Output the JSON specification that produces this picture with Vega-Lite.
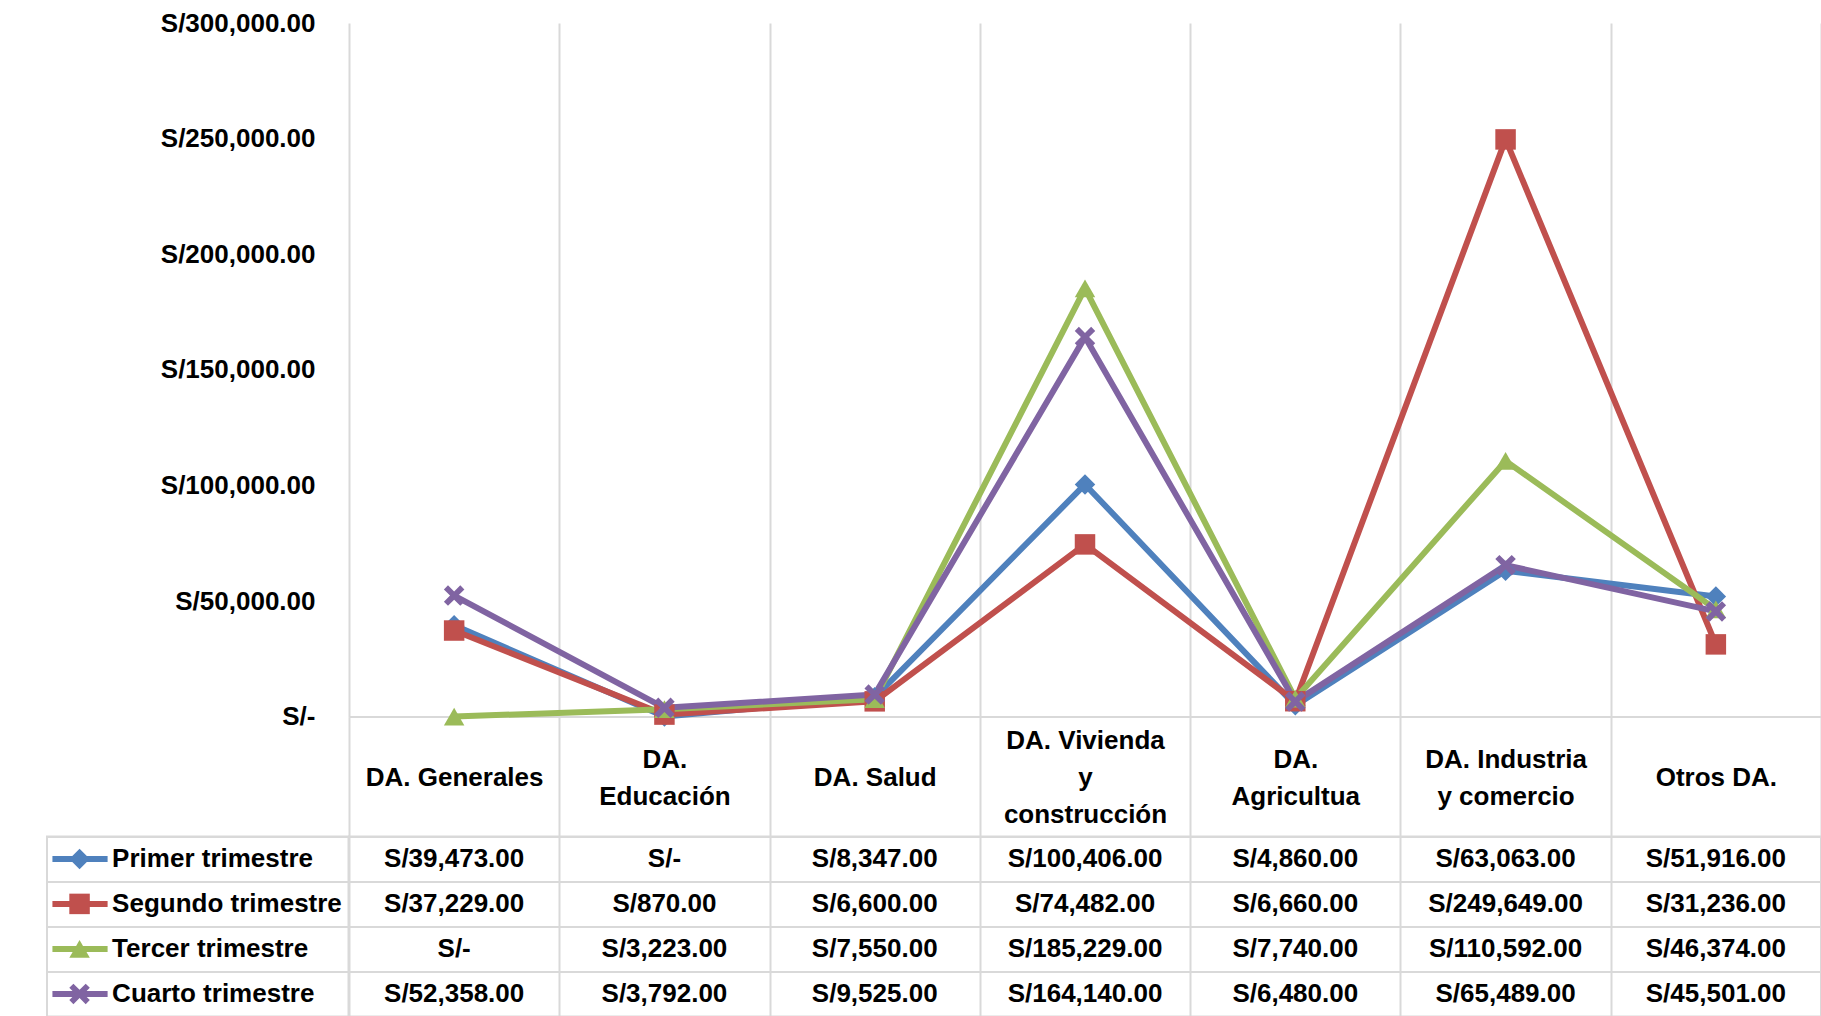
{
  "$schema": "https://vega.github.io/schema/vega-lite/v6.json",
  "padding": {"left": 46, "top": 10, "right": 0, "bottom": 0},
  "background": "#ffffff",
  "config": {"font": "Liberation Sans", "view": {"stroke": null}},
  "datasets": {
    "d": [
      {"cat": "DA. Generales", "series": "Primer trimestre", "value": 39473},
      {"cat": "DA. Educación", "series": "Primer trimestre", "value": 0},
      {"cat": "DA. Salud", "series": "Primer trimestre", "value": 8347},
      {"cat": "DA. Vivienda y construcción", "series": "Primer trimestre", "value": 100406},
      {"cat": "DA. Agricultua", "series": "Primer trimestre", "value": 4860},
      {"cat": "DA. Industria y comercio", "series": "Primer trimestre", "value": 63063},
      {"cat": "Otros DA.", "series": "Primer trimestre", "value": 51916},
      {"cat": "DA. Generales", "series": "Segundo trimestre", "value": 37229},
      {"cat": "DA. Educación", "series": "Segundo trimestre", "value": 870},
      {"cat": "DA. Salud", "series": "Segundo trimestre", "value": 6600},
      {"cat": "DA. Vivienda y construcción", "series": "Segundo trimestre", "value": 74482},
      {"cat": "DA. Agricultua", "series": "Segundo trimestre", "value": 6660},
      {"cat": "DA. Industria y comercio", "series": "Segundo trimestre", "value": 249649},
      {"cat": "Otros DA.", "series": "Segundo trimestre", "value": 31236},
      {"cat": "DA. Generales", "series": "Tercer trimestre", "value": 0},
      {"cat": "DA. Educación", "series": "Tercer trimestre", "value": 3223},
      {"cat": "DA. Salud", "series": "Tercer trimestre", "value": 7550},
      {"cat": "DA. Vivienda y construcción", "series": "Tercer trimestre", "value": 185229},
      {"cat": "DA. Agricultua", "series": "Tercer trimestre", "value": 7740},
      {"cat": "DA. Industria y comercio", "series": "Tercer trimestre", "value": 110592},
      {"cat": "Otros DA.", "series": "Tercer trimestre", "value": 46374},
      {"cat": "DA. Generales", "series": "Cuarto trimestre", "value": 52358},
      {"cat": "DA. Educación", "series": "Cuarto trimestre", "value": 3792},
      {"cat": "DA. Salud", "series": "Cuarto trimestre", "value": 9525},
      {"cat": "DA. Vivienda y construcción", "series": "Cuarto trimestre", "value": 164140},
      {"cat": "DA. Agricultua", "series": "Cuarto trimestre", "value": 6480},
      {"cat": "DA. Industria y comercio", "series": "Cuarto trimestre", "value": 65489},
      {"cat": "Otros DA.", "series": "Cuarto trimestre", "value": 45501}
    ],
    "s": [
      {"series": "Primer trimestre"},
      {"series": "Segundo trimestre"},
      {"series": "Tercer trimestre"},
      {"series": "Cuarto trimestre"}
    ]
  },
  "bounds": "flush",
  "columns": 2,
  "spacing": {"row": 119.4, "column": 0},
  "concat": [
    {
      "width": 301.5,
      "height": 693.6,
      "data": {"values": []},
      "mark": {"type": "point", "opacity": 0},
      "encoding": {}
    },
    {
      "width": 1472,
      "height": 693.6,
      "data": {"name": "d"},
      "encoding": {
        "x": {
          "field": "cat", "type": "nominal", "bandPosition": 0.5,
          "sort": ["DA. Generales", "DA. Educación", "DA. Salud", "DA. Vivienda y construcción", "DA. Agricultua", "DA. Industria y comercio", "Otros DA."],
          "scale": {"type": "band", "paddingInner": 0, "paddingOuter": 0},
          "axis": {
            "title": null, "grid": true, "gridColor": "#D9D9D9", "gridWidth": 2, "tickBand": "extent",
            "ticks": true, "tickSize": 119.4, "tickColor": "#D9D9D9", "tickWidth": 2,
            "domain": true, "domainColor": "#D9D9D9", "domainWidth": 2,
            "labelFontSize": 26, "labelFont": "Liberation Sans", "labelFontWeight": "bold", "labelColor": "#000000",
            "labelLineHeight": 37, "labelPadding": -76.7, "labelLimit": 0, "labelOverlap": false,
            "labelAngle": 0,
            "labelBaseline": {
              "condition": [
                {"test": "datum.value == 'DA. Vivienda y construcción'", "value": "line-bottom"},
                {"test": "datum.value == 'DA. Educación' || datum.value == 'DA. Agricultua' || datum.value == 'DA. Industria y comercio'", "value": "middle"}
              ],
              "value": "line-top"
            },
            "labelExpr": "datum.label == 'DA. Educación' ? ['DA.', 'Educación'] : datum.label == 'DA. Vivienda y construcción' ? ['DA. Vivienda', 'y', 'construcción'] : datum.label == 'DA. Agricultua' ? ['DA.', 'Agricultua'] : datum.label == 'DA. Industria y comercio' ? ['DA. Industria', 'y comercio'] : datum.label"
          }
        },
        "y": {
          "field": "value", "type": "quantitative",
          "scale": {"domain": [0, 300000], "nice": false, "zero": true},
          "axis": {
            "title": null, "values": [0, 50000, 100000, 150000, 200000, 250000, 300000],
            "labelExpr": "datum.value == 0 ? 'S/-' : 'S/' + format(datum.value, ',.2f')",
            "labelFontSize": 26, "labelFont": "Liberation Sans", "labelFontWeight": "bold", "labelColor": "#000000",
            "labelPadding": 34, "ticks": false, "domain": false, "grid": false
          }
        },
        "color": {
          "field": "series", "type": "nominal",
          "scale": {"domain": ["Primer trimestre", "Segundo trimestre", "Tercer trimestre", "Cuarto trimestre"], "range": ["#4F81BD", "#C0504D", "#9BBB59", "#8064A2"]},
          "legend": null
        }
      },
      "layer": [
        {"mark": {"type": "line", "strokeWidth": 6, "strokeJoin": "round"}},
        {
          "mark": {"type": "point", "filled": true, "size": 420, "opacity": 1},
          "encoding": {
            "shape": {"field": "series", "type": "nominal", "scale": {"domain": ["Primer trimestre", "Segundo trimestre", "Tercer trimestre", "Cuarto trimestre"], "range": ["diamond", "square", "triangle-up", "M-1,-0.6L-0.6,-1L0,-0.4L0.6,-1L1,-0.6L0.4,0L1,0.6L0.6,1L0,0.4L-0.6,1L-1,0.6L-0.4,0Z"]}, "legend": null}
          }
        }
      ]
    },
    {
      "width": 301.5,
      "height": 180,
      "view": {"stroke": "#D9D9D9", "strokeWidth": 2},
      "data": {"name": "s"},
      "encoding": {
        "y": {
          "field": "series", "type": "nominal", "bandPosition": 0.5,
          "sort": ["Primer trimestre", "Segundo trimestre", "Tercer trimestre", "Cuarto trimestre"],
          "scale": {"type": "band", "paddingInner": 0, "paddingOuter": 0},
          "axis": {"title": null, "labels": false, "ticks": false, "domain": false, "grid": true, "tickBand": "extent", "gridColor": "#D9D9D9", "gridWidth": 2}
        }
      },
      "layer": [
        {
          "mark": {"type": "rule", "strokeWidth": 6},
          "encoding": {
            "x": {"datum": 1.8, "type": "quantitative", "scale": {"domain": [0, 100]}, "axis": null},
            "x2": {"datum": 20.1},
            "color": {"field": "series", "type": "nominal", "scale": {"domain": ["Primer trimestre", "Segundo trimestre", "Tercer trimestre", "Cuarto trimestre"], "range": ["#4F81BD", "#C0504D", "#9BBB59", "#8064A2"]}, "legend": null}
          }
        },
        {
          "mark": {"type": "point", "filled": true, "size": 420, "opacity": 1},
          "encoding": {
            "x": {"datum": 10.8, "type": "quantitative"},
            "color": {"field": "series", "type": "nominal", "legend": null},
            "shape": {"field": "series", "type": "nominal", "scale": {"domain": ["Primer trimestre", "Segundo trimestre", "Tercer trimestre", "Cuarto trimestre"], "range": ["diamond", "square", "triangle-up", "M-1,-0.6L-0.6,-1L0,-0.4L0.6,-1L1,-0.6L0.4,0L1,0.6L0.6,1L0,0.4L-0.6,1L-1,0.6L-0.4,0Z"]}, "legend": null}
          }
        },
        {
          "mark": {"type": "text", "align": "left", "baseline": "middle", "fontSize": 26, "fontWeight": "bold", "color": "#000000"},
          "encoding": {
            "x": {"datum": 21.6, "type": "quantitative"},
            "text": {"field": "series"}
          }
        }
      ]
    },
    {
      "width": 1472,
      "height": 180,
      "view": {"stroke": "#D9D9D9", "strokeWidth": 2},
      "data": {"name": "d"},
      "transform": [
        {"calculate": "datum.value == 0 ? 'S/-' : 'S/' + format(datum.value, ',.2f')", "as": "label"}
      ],
      "mark": {"type": "text", "fontSize": 26, "fontWeight": "bold", "color": "#000000", "baseline": "middle"},
      "encoding": {
        "x": {
          "field": "cat", "type": "nominal",
          "sort": ["DA. Generales", "DA. Educación", "DA. Salud", "DA. Vivienda y construcción", "DA. Agricultua", "DA. Industria y comercio", "Otros DA."],
          "scale": {"type": "band", "paddingInner": 0, "paddingOuter": 0},
          "axis": {"title": null, "labels": false, "ticks": false, "domain": false, "grid": true, "tickBand": "extent", "gridColor": "#D9D9D9", "gridWidth": 2}
        },
        "y": {
          "field": "series", "type": "nominal",
          "sort": ["Primer trimestre", "Segundo trimestre", "Tercer trimestre", "Cuarto trimestre"],
          "scale": {"type": "band", "paddingInner": 0, "paddingOuter": 0},
          "axis": {"title": null, "labels": false, "ticks": false, "domain": false, "grid": true, "tickBand": "extent", "gridColor": "#D9D9D9", "gridWidth": 2}
        },
        "text": {"field": "label"}
      }
    }
  ]
}
